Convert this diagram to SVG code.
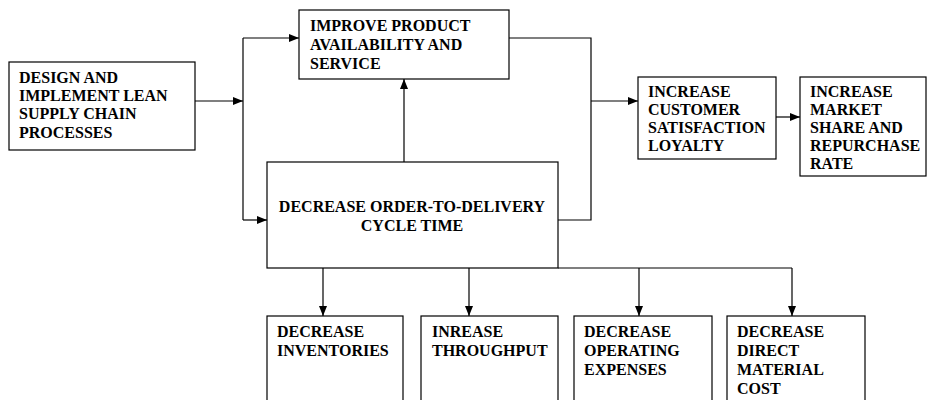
<svg xmlns="http://www.w3.org/2000/svg" width="927" height="400" viewBox="0 0 927 400">
<style>
.box{fill:#fff;stroke:#000;stroke-width:1.2}
.t{font-family:"Liberation Serif","Times New Roman",serif;font-weight:bold;font-size:16px;fill:#000}
.c{fill:none;stroke:#000;stroke-width:1.2}
</style>
<defs>
<marker id="ah" viewBox="0 0 10 8" refX="10" refY="4" markerWidth="10" markerHeight="8" markerUnits="userSpaceOnUse" orient="auto">
<path d="M0,0 L10,4 L0,8 Z" fill="#000"/>
</marker>
</defs>
<rect width="927" height="400" fill="#fff"/>
<g id="connectors">
<path class="c" d="M195,101 H243" marker-end="url(#ah)"/>
<path class="c" d="M243,38 V220"/>
<path class="c" d="M243,38 H299" marker-end="url(#ah)"/>
<path class="c" d="M243,220 H267" marker-end="url(#ah)"/>
<path class="c" d="M404,162 V79" marker-end="url(#ah)"/>
<path class="c" d="M509,38 H591 V220 H558"/>
<path class="c" d="M591,101 H638" marker-end="url(#ah)"/>
<path class="c" d="M776,117 H800" marker-end="url(#ah)"/>
<path class="c" d="M558,268 H792"/>
<path class="c" d="M323,268 V316" marker-end="url(#ah)"/>
<path class="c" d="M469,268 V316" marker-end="url(#ah)"/>
<path class="c" d="M639,268 V316" marker-end="url(#ah)"/>
<path class="c" d="M792,268 V316" marker-end="url(#ah)"/>
</g>
<g id="design">
<rect class="box" x="9" y="62" width="186" height="88"/>
<text class="t" x="19" y="83">DESIGN AND</text>
<text class="t" x="19" y="101">IMPLEMENT LEAN</text>
<text class="t" x="19" y="119">SUPPLY CHAIN</text>
<text class="t" x="19" y="138">PROCESSES</text>
</g>
<g id="improve">
<rect class="box" x="299" y="10" width="210" height="69"/>
<text class="t" x="310" y="31">IMPROVE PRODUCT</text>
<text class="t" x="310" y="50">AVAILABILITY AND</text>
<text class="t" x="310" y="69">SERVICE</text>
</g>
<g id="decrease-cycle">
<rect class="box" x="267" y="162" width="291" height="106"/>
<text class="t" x="412" y="212" text-anchor="middle">DECREASE ORDER-TO-DELIVERY</text>
<text class="t" x="412" y="231" text-anchor="middle">CYCLE TIME</text>
</g>
<g id="customer">
<rect class="box" x="638" y="77" width="138" height="82"/>
<text class="t" x="648" y="97">INCREASE</text>
<text class="t" x="648" y="115">CUSTOMER</text>
<text class="t" x="648" y="133">SATISFACTION</text>
<text class="t" x="648" y="151">LOYALTY</text>
</g>
<g id="market">
<rect class="box" x="800" y="77" width="126" height="99"/>
<text class="t" x="810" y="97">INCREASE</text>
<text class="t" x="810" y="115">MARKET</text>
<text class="t" x="810" y="133">SHARE AND</text>
<text class="t" x="810" y="151">REPURCHASE</text>
<text class="t" x="810" y="169">RATE</text>
</g>
<g id="inventories">
<rect class="box" x="267" y="316" width="136" height="100"/>
<text class="t" x="277" y="337">DECREASE</text>
<text class="t" x="277" y="356">INVENTORIES</text>
</g>
<g id="throughput">
<rect class="box" x="421" y="316" width="137" height="100"/>
<text class="t" x="432" y="337">INREASE</text>
<text class="t" x="432" y="356">THROUGHPUT</text>
</g>
<g id="operating">
<rect class="box" x="574" y="316" width="138" height="100"/>
<text class="t" x="584" y="337">DECREASE</text>
<text class="t" x="584" y="356">OPERATING</text>
<text class="t" x="584" y="375">EXPENSES</text>
</g>
<g id="material">
<rect class="box" x="727" y="316" width="138" height="100"/>
<text class="t" x="737" y="337">DECREASE</text>
<text class="t" x="737" y="356">DIRECT</text>
<text class="t" x="737" y="375">MATERIAL</text>
<text class="t" x="737" y="394">COST</text>
</g>
</svg>
